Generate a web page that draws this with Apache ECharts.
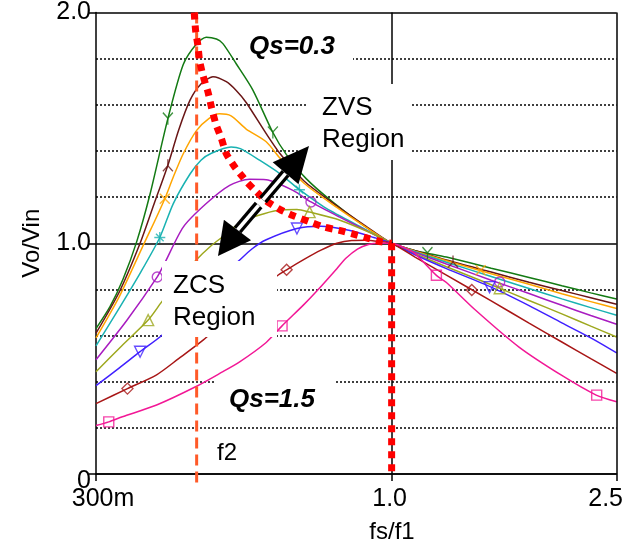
<!DOCTYPE html>
<html><head><meta charset="utf-8">
<script src="https://cdn.jsdelivr.net/npm/echarts@6/dist/echarts.min.js"></script>
<style>html,body{margin:0;padding:0;background:#fff}#c{width:626px;height:549px}</style>
</head><body><div id="c"></div>
<script>
// ---- axis ticks ----
const xTickValues = [0.3, 1.0, 2.5];
const xTickLabels = ['300m', '1.0', '2.5'];
const yTickValues = [0, 1, 2];
const yTickLabels = ['0', '1.0', '2.0'];
const f2Value = 0.452;

// ---- curves (fs/f1, Vo/Vin) ----
const curveQs03 = [[0.3,0.63],[0.3176,0.725],[0.335,0.845],[0.354,1.006],[0.3736,1.21],[0.402,1.54],[0.428,1.775],[0.452,1.865],[0.47,1.893],[0.49,1.885],[0.503,1.865],[0.531,1.778],[0.568,1.665],[0.6165,1.48],[0.651,1.385],[0.706,1.28],[0.787,1.178],[0.889,1.08],[1.0,1.0],[1.1,0.968],[1.157,0.957],[1.25,0.94],[1.5,0.892],[1.75,0.852],[2.0,0.816],[2.25,0.785],[2.5,0.758]];
const curveB = [[0.3,0.61],[0.33,0.79],[0.359,1.0],[0.38,1.17],[0.402,1.338],[0.42,1.49],[0.44,1.62],[0.46,1.69],[0.483,1.722],[0.51,1.70],[0.531,1.662],[0.553,1.61],[0.6,1.475],[0.634,1.39],[0.7,1.27],[0.8,1.162],[0.9,1.074],[1.0,1.0],[1.1,0.968],[1.25,0.927],[1.5,0.875],[1.75,0.831],[2.0,0.795],[2.25,0.764],[2.5,0.736]];
const curveC = [[0.3,0.59],[0.33,0.77],[0.366,1.006],[0.38,1.09],[0.397,1.193],[0.411,1.287],[0.428,1.388],[0.452,1.489],[0.475,1.54],[0.496,1.561],[0.52,1.552],[0.553,1.495],[0.6,1.44],[0.634,1.37],[0.7,1.26],[0.8,1.155],[0.9,1.07],[1.0,1.0],[1.1,0.966],[1.25,0.924],[1.5,0.868],[1.75,0.822],[2.0,0.781],[2.25,0.747],[2.5,0.717]];
const curveD = [[0.3,0.555],[0.33,0.72],[0.36,0.875],[0.389,1.025],[0.411,1.172],[0.44,1.30],[0.46,1.36],[0.48,1.39],[0.52,1.417],[0.54,1.41],[0.584,1.36],[0.634,1.302],[0.687,1.232],[0.76,1.157],[0.86,1.085],[1.0,1.0],[1.1,0.963],[1.25,0.918],[1.5,0.856],[1.75,0.804],[2.0,0.759],[2.25,0.721],[2.5,0.688]];
const curveE = [[0.3,0.495],[0.34,0.665],[0.385,0.854],[0.397,0.915],[0.428,1.07],[0.47,1.172],[0.517,1.251],[0.56,1.277],[0.6,1.275],[0.669,1.229],[0.72,1.179],[0.808,1.114],[0.924,1.042],[1.0,1.0],[1.1,0.96],[1.25,0.91],[1.5,0.84],[1.75,0.782],[2.0,0.731],[2.25,0.687],[2.5,0.649]];
const curveF = [[0.3,0.443],[0.333,0.555],[0.371,0.667],[0.392,0.746],[0.42,0.84],[0.449,0.922],[0.48,0.99],[0.51,1.04],[0.54,1.09],[0.58,1.12],[0.63,1.143],[0.68,1.146],[0.716,1.135],[0.81,1.10],[0.924,1.042],[1.0,1.0],[1.1,0.955],[1.25,0.898],[1.5,0.82],[1.75,0.752],[2.0,0.694],[2.25,0.641],[2.5,0.594]];
const curveG = [[0.3,0.383],[0.33,0.46],[0.359,0.53],[0.392,0.60],[0.42,0.68],[0.455,0.77],[0.49,0.845],[0.53,0.912],[0.566,0.975],[0.6,1.015],[0.68,1.064],[0.75,1.074],[0.84,1.056],[0.93,1.025],[1.0,1.0],[1.1,0.95],[1.25,0.89],[1.5,0.81],[1.75,0.73],[2.0,0.655],[2.25,0.59],[2.5,0.525]];
const curveH = [[0.3,0.305],[0.341,0.37],[0.384,0.43],[0.42,0.50],[0.464,0.58],[0.5,0.65],[0.5385,0.72],[0.58,0.787],[0.626,0.857],[0.652,0.885],[0.7,0.93],[0.75,0.97],[0.8,1.0],[0.85,1.012],[0.9,1.013],[0.95,1.008],[1.0,1.0],[1.1,0.94],[1.25,0.862],[1.5,0.75],[1.75,0.654],[2.0,0.572],[2.25,0.50],[2.5,0.436]];
const curveQs15 = [[0.3,0.21],[0.316,0.226],[0.334,0.248],[0.384,0.299],[0.45,0.378],[0.5,0.44],[0.5385,0.486],[0.6,0.57],[0.64,0.642],[0.7,0.735],[0.745,0.805],[0.8,0.89],[0.83,0.935],[0.87,0.975],[0.91,0.995],[0.95,1.0],[1.0,1.0],[1.05,0.982],[1.1,0.955],[1.2,0.861],[1.25,0.83],[1.4,0.715],[1.68,0.55],[2.0,0.427],[2.3,0.342],[2.5,0.313]];

// ---- markers on the curves ----
const markQs03 = [[0.402,1.54],[0.6165,1.48],[1.157,0.957]];
const markB = [[0.402,1.338],[1.284,0.921]];
const markC = [[0.397,1.193],[1.437,0.883]];
const markD = [[0.389,1.025],[0.687,1.232]];
const markE = [[0.385,0.854],[0.72,1.179],[1.553,0.832]];
const markF = [[0.371,0.667],[0.716,1.135],[1.553,0.805]];
const markG = [[0.359,0.53],[0.68,1.064],[1.49,0.81]];
const markH = [[0.341,0.37],[0.652,0.885],[1.386,0.797]];
const markQs15 = [[0.316,0.226],[0.64,0.642],[1.2,0.861],[2.305,0.342]];

// ---- ZVS / ZCS boundary ----
const boundaryCurve = [[0.4475,2.0],[0.4501,1.922],[0.4543,1.857],[0.4575,1.79],[0.4638,1.727],[0.4734,1.655],[0.480,1.59],[0.4886,1.518],[0.5,1.453],[0.51,1.388],[0.528,1.33],[0.5455,1.287],[0.556,1.262],[0.577,1.222],[0.6,1.184],[0.634,1.147],[0.669,1.12],[0.716,1.093],[0.76,1.07],[0.808,1.056],[0.85,1.042],[0.913,1.02],[0.96,1.006],[1.0,1.0]];
const boundaryVertical = [[1.0,1.0],[1.0,0]];

const colors = ['#137a13','#6a1616','#ffa500','#19b2b2','#a81cc0','#9ea81e','#4020ff','#a81616','#f21896'];
const curves = [curveQs03, curveB, curveC, curveD, curveE, curveF, curveG, curveH, curveQs15];
const marks = [markQs03, markB, markC, markD, markE, markF, markG, markH, markQs15];
const symY = 'path://M0,0 L5,6 L10,0 M5,6 L5,13';
const symL = 'path://M0,13 L5,7 L10,13 M5,7 L5,0';
const symX = 'path://M0,0 L10,10 M10,0 L0,10';
const symP = 'path://M5,0 L5,10 M0,5 L10,5 M1.5,1.5 L8.5,8.5';
const symbols = [symY, symL, symX, symP, 'circle', 'triangle', 'triangle', 'diamond', 'rect'];
const symRot = [0,0,0,0,0,0,180,0,0];
const symSize = [[10,12],[10,12],10,11,10,11,11,11,10];

const FONT = '"Liberation Sans", Arial, sans-serif';
const chart = echarts.init(document.getElementById('c'), null, {renderer:'canvas'});

const series = [];
series.push({type:'line', data:[], silent:true, markLine:{silent:true, symbol:['none','none'], label:{show:false},
  lineStyle:{color:'#000', width:1.5, type:'solid'}, data:[{xAxis:1.0},{xAxis:2.5}]}, z:1});
curves.forEach((d,i)=>{
  series.push({type:'line', data:d, smooth:0.25, symbol:'none', showSymbol:false,
    lineStyle:{color:colors[i], width:1.5}, itemStyle:{color:colors[i]}, z:3, silent:true});
  series.push({type:'scatter', data:marks[i], symbol:symbols[i], symbolSize:symSize[i], symbolRotate:symRot[i],
    itemStyle:{color:'rgba(255,255,255,0)', borderColor:colors[i], borderWidth:1.4}, z:4, silent:true});
});
series.push({type:'line', data:[[f2Value,2.0],[f2Value,-0.062]], clip:false, symbol:'none',
  lineStyle:{color:'#ff5a28', width:3, type:[11,6]}, z:5, silent:true});
series.push({type:'line', data:boundaryCurve, smooth:0.2, symbol:'none',
  lineStyle:{color:'#ff0000', width:7, type:[7,6], cap:'butt'}, z:6, silent:true});
series.push({type:'line', data:boundaryVertical, symbol:'none',
  lineStyle:{color:'#ff0000', width:7, type:[7,6], cap:'butt'}, z:6, silent:true});

function rect(x,y,w,h){ return {type:'rect', shape:{x,y,width:w,height:h}, style:{fill:'#fff'}, z:100, silent:true}; }
function txt(x,y,t,font,extra){ return {type:'text', x, y, z:101, silent:true,
  style:Object.assign({text:t, font: font, fill:'#000', textVerticalAlign:'middle'}, extra||{})}; }

// arrow geometry (px)
const tipU=[309,146], tipL=[218,256];
const baseU=[285.6,173.3], baseL=[237.5,230];
function lerp(a,b,t){return [a[0]+(b[0]-a[0])*t, a[1]+(b[1]-a[1])*t];}
function head(tip, base, hw){
  const dx=tip[0]-base[0], dy=tip[1]-base[1], L=Math.hypot(dx,dy); const px=-dy/L*hw, py=dx/L*hw;
  return {type:'polygon', shape:{points:[tip,[base[0]+px,base[1]+py],[base[0]-px,base[1]-py]]}, style:{fill:'#000'}, z:103, silent:true};
}
const gapA = lerp(baseL, baseU, 0.44), gapB = lerp(baseL, baseU, 0.53);
function shaft(a,b){ return [
  {type:'line', shape:{x1:a[0],y1:a[1],x2:b[0],y2:b[1]}, style:{stroke:'#000', lineWidth:10}, z:102, silent:true},
  {type:'line', shape:{x1:a[0],y1:a[1],x2:b[0],y2:b[1]}, style:{stroke:'#fff', lineWidth:3.5}, z:102.5, silent:true}
];}

const BI = 'italic bold 26px ' + FONT;
const graphics = [
  rect(240,30,113,34), txt(249,47,'Qs=0.3',BI),
  rect(308,84,102,76), txt(322,124,'ZVS\nRegion','26px '+FONT,{lineHeight:32}),
  rect(162,261,115,76), txt(173,302,'ZCS\nRegion','26px '+FONT,{lineHeight:32}),
  rect(215,379,120,36), txt(229,400,'Qs=1.5',BI),
  txt(217,453,'f2','24px '+FONT),
  txt(392,532,'fs/f1','24px '+FONT,{textAlign:'center'}),
  ...shaft(baseU, gapB), ...shaft(gapA, baseL),
  head(tipU, baseU, 17), head(tipL, baseL, 17)
];

function nearestLabel(v){ let bi=0, bd=1e9; xTickValues.forEach((t,i)=>{const d=Math.abs(Math.log(t)-Math.log(v)); if(d<bd){bd=d;bi=i;}}); return bi; }

chart.setOption({
  animation:false,
  backgroundColor:'#fff',
  grid:{left:96, right:8, top:12, bottom:75, containLabel:false},
  xAxis:{type:'log', min:0.3, max:2.5, logBase:10,
    axisLine:{show:true, onZero:false, lineStyle:{color:'#000', width:1.5}},
    axisTick:{show:true, customValues:xTickValues, length:7, lineStyle:{color:'#000', width:1.5}},
    axisLabel:{show:true, customValues:xTickValues, margin:13, color:'#000', fontSize:25, fontFamily:FONT,
      formatter:(v)=>{const i=nearestLabel(v); return ['{a|','{b|','{c|'][i]+xTickLabels[i]+'}';},
      rich:{a:{fontSize:25, fontFamily:FONT, color:'#000', padding:[0,0,0,14]},
            b:{fontSize:25, fontFamily:FONT, color:'#000', padding:[0,4,0,0]},
            c:{fontSize:25, fontFamily:FONT, color:'#000', padding:[0,22,0,0]}}},
    splitLine:{show:false}, minorTick:{show:false}, minorSplitLine:{show:false}},
  yAxis:{type:'value', min:0, max:2, interval:1,
    name:'Vo/Vin', nameLocation:'middle', nameRotate:90, nameGap:52,
    nameTextStyle:{fontSize:24, fontFamily:FONT, color:'#000'},
    axisLine:{show:true, lineStyle:{color:'#000', width:1.5}},
    axisTick:{show:true, length:7, lineStyle:{color:'#000', width:1.5}},
    axisLabel:{margin:5, color:'#000', fontSize:25, fontFamily:FONT,
      formatter:(v)=>{const i=yTickValues.indexOf(Math.round(v)); return i===0 ? '{z|'+yTickLabels[i]+'}' : yTickLabels[i];},
      rich:{z:{fontSize:25, fontFamily:FONT, color:'#000', padding:[14,0,0,0]}}},
    splitLine:{show:true, lineStyle:{color:'#000', width:1.5, type:'solid'}},
    minorTick:{show:false, splitNumber:5},
    minorSplitLine:{show:true, lineStyle:{color:'#111', width:1.6, type:[2,2]}}},
  series,
  graphic: graphics
});
</script></body></html>
